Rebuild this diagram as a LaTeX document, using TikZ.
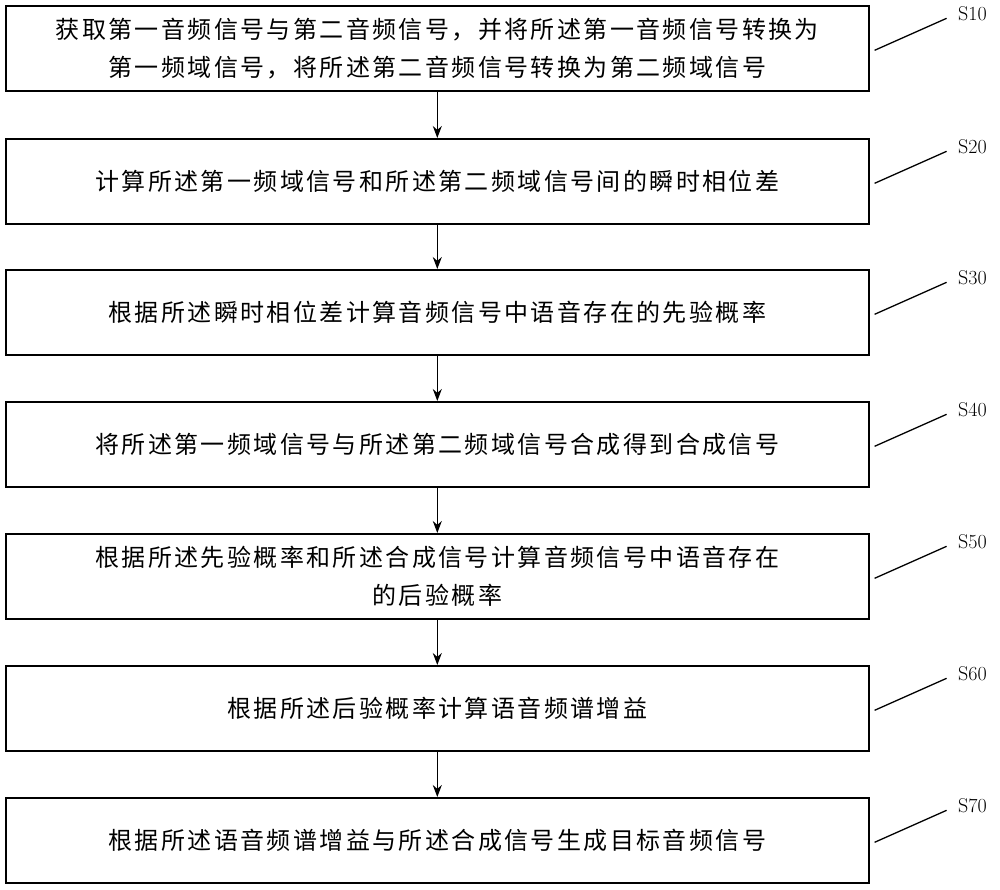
\documentclass[tikz,border=0pt]{standalone}
\usepackage{fontspec}
\newfontfamily\cjk[LetterSpace=10]{Noto Sans CJK SC}
\usetikzlibrary{arrows.meta}
\begin{document}
\begin{tikzpicture}[x=1pt,y=-1pt,
  box/.style={draw,line width=1.6pt,minimum width=863pt,minimum height=85pt,anchor=north west,align=center,inner sep=0pt,font=\cjk\fontsize{24}{38}\selectfont},
  arr/.style={-{Stealth[length=12pt,width=9pt]},line width=1.3pt},
  lbl/.style={font=\fontsize{20}{20}\selectfont\rmfamily}]
\useasboundingbox (0,0) rectangle (1000,889);
\node[box] (b1) at (5,5) {获取第一音频信号与第二音频信号，并将所述第一音频信号转换为\\第一频域信号，将所述第二音频信号转换为第二频域信号};
\node[box] (b2) at (5,138) {计算所述第一频域信号和所述第二频域信号间的瞬时相位差};
\node[box] (b3) at (5,269) {根据所述瞬时相位差计算音频信号中语音存在的先验概率};
\node[box] (b4) at (5,401) {将所述第一频域信号与所述第二频域信号合成得到合成信号};
\node[box] (b5) at (5,533) {根据所述先验概率和所述合成信号计算音频信号中语音存在\\的后验概率};
\node[box] (b6) at (5,665) {根据所述后验概率计算语音频谱增益};
\node[box] (b7) at (5,797) {根据所述语音频谱增益与所述合成信号生成目标音频信号};
\foreach \a/\b in {b1/b2,b2/b3,b3/b4,b4/b5,b5/b6,b6/b7}
  \draw[arr] (\a.south) -- (\b.north);
\foreach \b/\t in {b1/S10,b2/S20,b3/S30,b4/S40,b5/S50,b6/S60,b7/S70}{
  \coordinate (e\b) at ([xshift=5pt,yshift=-2pt]\b.east);
  \coordinate (f\b) at ([xshift=77pt,yshift=30pt]\b.east);
  \draw[line width=1.3pt] (e\b) -- (f\b);
  \node[lbl,anchor=south west] (l\b) at ([xshift=8pt,yshift=-6pt]f\b) {\t};
}
\end{tikzpicture}
\end{document}
